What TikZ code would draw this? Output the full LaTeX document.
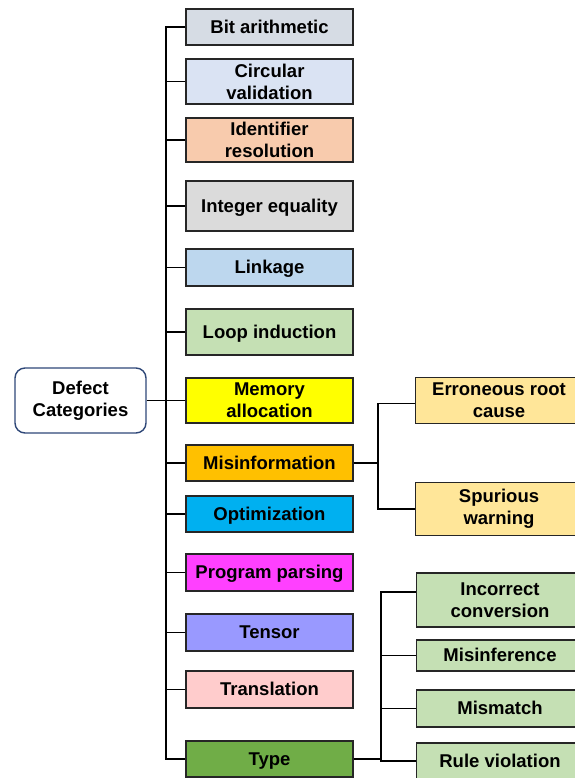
\documentclass[tikz,border=0pt]{standalone}
\usepackage{fontspec}
\setmainfont{Liberation Sans}
\begin{document}
\begin{tikzpicture}[x=1pt,y=-1pt,
  box/.style={draw=black!85, line width=1.4pt, minimum width=167pt, inner sep=0pt,
    align=center, font=\fontsize{18.5}{22}\selectfont\bfseries},
  single/.style={text height=16.5pt, text depth=4pt},
  link/.style={draw=black, line width=1.5pt},
  rootbox/.style={draw={rgb,255:red,47;green,72;blue,120}, line width=1.4pt, rounded corners=10pt,
    minimum width=131pt, minimum height=65pt, inner sep=0pt, align=center,
    font=\fontsize{18.5}{22}\selectfont\bfseries, fill=white}]
\useasboundingbox (0,0) rectangle (574,778);
\fill[white] (0,0) rectangle (574,778);

% root of the tree
\node[rootbox] (root) at (80.5,400.5) {Defect\\Categories};

% first-level categories
\node[box, single, fill={rgb,255:red,214;green,220;blue,228}, minimum height=36pt] (bit)   at (269.5,27)  {Bit arithmetic};
\node[box, fill={rgb,255:red,218;green,227;blue,243}, minimum height=45pt] (circ)  at (269.5,81.5)  {Circular\\validation};
\node[box, fill={rgb,255:red,248;green,203;blue,173}, minimum height=44pt] (ident) at (269.5,140) {Identifier\\resolution};
\node[box, single, fill={rgb,255:red,219;green,219;blue,219}, minimum height=50pt] (inteq) at (269.5,206) {Integer equality};
\node[box, single, fill={rgb,255:red,189;green,215;blue,238}, minimum height=37pt] (link)  at (269.5,267.5) {Linkage};
\node[box, single, fill={rgb,255:red,197;green,224;blue,180}, minimum height=46pt] (loop)  at (269.5,332) {Loop induction};
\node[box, fill={rgb,255:red,255;green,255;blue,0},   minimum height=45pt] (mem)   at (269.5,400.5) {Memory\\allocation};
\node[box, single, fill={rgb,255:red,255;green,192;blue,0},   minimum height=36pt] (misin) at (269.5,463) {Misinformation};
\node[box, single, fill={rgb,255:red,0;green,176;blue,240},   minimum height=36pt] (opt)   at (269.5,514) {Optimization};
\node[box, single, fill={rgb,255:red,255;green,64;blue,255},  minimum height=37pt] (prog)  at (269.5,572.5) {Program parsing};
\node[box, single, fill={rgb,255:red,153;green,153;blue,255}, minimum height=37pt] (tens)  at (269.5,632.5) {Tensor};
\node[box, single, fill={rgb,255:red,255;green,204;blue,204}, minimum height=37pt] (trans) at (269.5,689.5) {Translation};
\node[box, single, fill={rgb,255:red,112;green,173;blue,71},  minimum height=36pt] (type)  at (269.5,759) {Type};

% misinformation subcategories
\node[box, fill={rgb,255:red,255;green,230;blue,153}, minimum height=46pt] (erro) at (499,400.5) {Erroneous root\\cause};
\node[box, fill={rgb,255:red,255;green,230;blue,153}, minimum height=53pt] (spur) at (499,509) {Spurious\\warning};

% type subcategories
\node[box, fill={rgb,255:red,197;green,224;blue,180}, minimum height=54pt] (conv) at (500,600) {Incorrect\\conversion};
\node[box, single, fill={rgb,255:red,197;green,224;blue,180}, minimum height=31pt] (minf) at (500,655.5) {Misinference};
\node[box, single, fill={rgb,255:red,197;green,224;blue,180}, minimum height=37pt] (mism) at (500,708.5) {Mismatch};
\node[box, single, fill={rgb,255:red,197;green,224;blue,180}, minimum height=36pt] (rule) at (500,761) {Rule violation};

% trunk and branches
\coordinate (tr) at (166,0);
\draw[link] (bit.west) -- (bit.west -| tr) -- (type.west -| tr) -- (type.west);
\foreach \n in {circ,ident,inteq,link,loop,mem,misin,opt,prog,tens,trans}
  \draw[link] (\n.west) -- (\n.west -| tr);
\draw[link] (root.east) -- (root.east -| tr);

% misinformation split
\coordinate (mj) at (378,463);
\draw[link] (misin.east) -- (mj);
\draw[link] (mj) |- ([yshift=-3pt]erro.west);
\draw[link] (mj) |- (spur.west);

% type split
\coordinate (tj) at (381,759);
\draw[link] (type.east) -- (tj);
\draw[link] (tj) |- ([yshift=8pt]conv.west);
\draw[link] (tj) |- (minf.west);
\draw[link] (tj) |- (mism.west);
\draw[link] (tj) |- (rule.west);
\end{tikzpicture}
\end{document}
